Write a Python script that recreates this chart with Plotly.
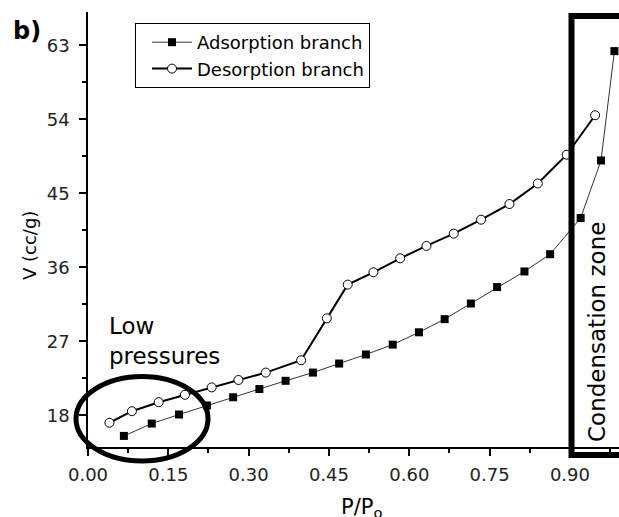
import plotly.graph_objects as go

# Adsorption branch (filled squares)
ads_x = [0.067, 0.119, 0.170, 0.222, 0.271, 0.320, 0.369, 0.420, 0.469, 0.519,
         0.569, 0.618, 0.666, 0.715, 0.764, 0.815, 0.863, 0.920, 0.958, 0.983]
ads_y = [15.5, 17.0, 18.1, 19.2, 20.2, 21.2, 22.2, 23.2, 24.3, 25.4,
         26.6, 28.1, 29.7, 31.6, 33.6, 35.5, 37.6, 42.0, 49.0, 62.3]

# Desorption branch (open circles)
des_x = [0.040, 0.082, 0.132, 0.181, 0.231, 0.281, 0.332, 0.398, 0.446, 0.485,
         0.533, 0.583, 0.632, 0.683, 0.734, 0.787, 0.840, 0.894, 0.947]
des_y = [17.1, 18.5, 19.6, 20.5, 21.4, 22.3, 23.2, 24.7, 29.8, 33.9,
         35.4, 37.1, 38.6, 40.1, 41.8, 43.7, 46.2, 49.7, 54.5]

x_ticks = [0.00, 0.15, 0.30, 0.45, 0.60, 0.75, 0.90]
y_ticks = [18, 27, 36, 45, 54, 63]

FONT = "DejaVu Sans"

fig = go.Figure()
fig.add_trace(go.Scatter(
    x=ads_x, y=ads_y, mode="lines+markers", name="Adsorption branch",
    line=dict(color="#333333", width=1),
    marker=dict(symbol="square", size=8, color="black"),
))
fig.add_trace(go.Scatter(
    x=des_x, y=des_y, mode="lines+markers", name="Desorption branch",
    line=dict(color="black", width=2),
    marker=dict(symbol="circle", size=9, color="white",
                line=dict(color="black", width=1)),
))

# plot area in pixels: x 88..619, y 12..447
L, T, W, H = 88, 12, 531, 435


def px(xp):
    return (xp - L) / W


def py(yp):
    return (T + H - yp) / H


fig.update_layout(
    width=619, height=517,
    margin=dict(l=L, r=619 - L - W, t=T, b=517 - T - H),
    paper_bgcolor="white", plot_bgcolor="white",
    font=dict(family=FONT, size=18, color="black"),
    showlegend=True,
    legend=dict(
        x=px(135), y=py(23), xanchor="left", yanchor="top",
        bordercolor="black", borderwidth=1, bgcolor="white",
        font=dict(family=FONT, size=18, color="black"),
        tracegroupgap=0, itemwidth=40, indentation=11,
    ),
    xaxis=dict(
        range=[0, W / 535.5], tickmode="array", tickvals=x_ticks,
        ticktext=[f"{v:.2f}" for v in x_ticks],
        showgrid=False, zeroline=False, showline=True, linecolor="black",
        linewidth=1.5, ticks="outside", ticklen=7, tickwidth=1.5,
        tickcolor="black", ticklabelstandoff=4,
        minor=dict(tickvals=[0.075, 0.225, 0.375, 0.525, 0.675, 0.825, 0.975],
                   ticks="outside", ticklen=4, tickwidth=1.5, tickcolor="black"),
        tickfont=dict(family=FONT, size=18, color="#222"),
    ),
    yaxis=dict(
        range=[14.15, 14.15 + H / 8.222], tickmode="array", tickvals=y_ticks,
        ticktext=[str(v) for v in y_ticks],
        showgrid=False, zeroline=False, showline=True, linecolor="black",
        linewidth=1.5, ticks="outside", ticklen=7, tickwidth=1.5,
        tickcolor="black", ticklabelstandoff=6,
        minor=dict(tickvals=[22.5, 31.5, 40.5, 49.5, 58.5],
                   ticks="outside", ticklen=4, tickwidth=1.5, tickcolor="black"),
        tickfont=dict(family=FONT, size=18, color="#222"),
    ),
)

# Ellipse around low pressures
fig.add_shape(type="circle", xref="paper", yref="paper",
              x0=px(76), x1=px(208), y0=py(461), y1=py(376.5),
              line=dict(color="black", width=5), layer="above")
# Condensation zone box
fig.add_shape(type="rect", xref="paper", yref="paper",
              x0=px(571.5), x1=px(660), y0=py(455), y1=py(16),
              line=dict(color="black", width=6), layer="above")

annotations = [
    dict(text="<b>b)</b>", x=px(27), y=py(31), font=dict(size=24)),
    dict(text="Low<br>pressures", x=px(107), y=py(341), xanchor="left",
         align="left", font=dict(size=23)),
    dict(text="Condensation zone", x=px(597), y=py(332), textangle=-90,
         font=dict(size=23)),
    dict(text="V (cc/g)", x=px(30), y=py(246), textangle=-90,
         font=dict(size=18)),
    dict(text="P/P<sub>o</sub>", x=px(362), y=py(508), font=dict(size=21)),
]
for a in annotations:
    a.setdefault("xanchor", "center")
    a.update(xref="paper", yref="paper", showarrow=False, yanchor="middle")
    a["font"].update(family=FONT, color="black")
    fig.add_annotation(**a)

fig.write_html(
    "out.html",
    config={"displayModeBar": False},
    post_script="document.body.style.margin='0';document.body.style.overflow='hidden';",
)
